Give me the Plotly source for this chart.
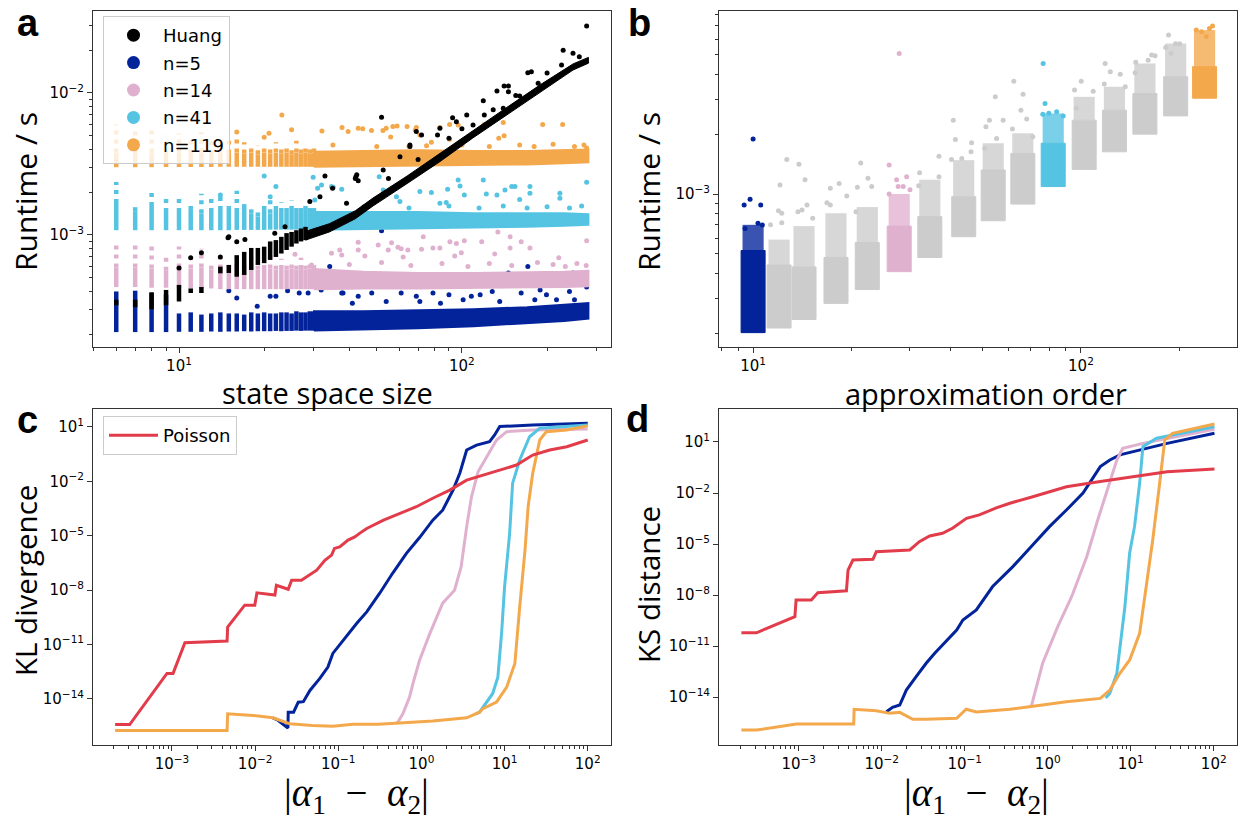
import plotly.graph_objects as go

W, H = 1239, 819

# colours
C_HUANG = "#000000"
C_N5 = "#03239b"
C_N14 = "#e0b1cf"
C_N41 = "#55c3e2"
C_N119 = "#f4a84c"
C_GREY = "#cccccc"
C_POIS = "#e23c4a"

# ---------------- panel a: runtime vs state space size ----------------
STRIP_N = [6, 7, 8, 9, 10, 11, 12, 13, 14, 15, 16, 17, 18, 19, 20, 21, 22, 23, 24, 25, 26, 27, 28, 29, 30]

N5_LO = [2.07e-4, 2.07e-4, 2.07e-4, 2.07e-4, 2.08e-4, 2.08e-4, 2.08e-4, 2.09e-4, 2.08e-4, 2.09e-4, 2.09e-4, 2.1e-4, 2.09e-4,
         2.1e-4, 2.1e-4, 2.1e-4, 2.11e-4, 2.1e-4, 2.11e-4, 2.11e-4, 2.12e-4, 2.11e-4, 2.12e-4, 2.12e-4, 2.12e-4]
N5_HI = [4.0e-4, 4.05e-4, 3.9e-4, 3.8e-4, 2.8e-4, 2.85e-4, 2.75e-4, 2.8e-4, 2.85e-4, 2.8e-4, 2.8e-4, 2.75e-4, 2.85e-4,
         2.8e-4, 2.85e-4, 2.8e-4, 2.8e-4, 2.85e-4, 2.85e-4, 2.8e-4, 2.9e-4, 2.85e-4, 2.85e-4, 2.9e-4, 2.9e-4]

N14_LO = [4.3e-4, 4.3e-4, 4.25e-4, 4.25e-4, 4.2e-4, 4.2e-4, 4.2e-4, 4.2e-4, 4.15e-4, 4.15e-4, 4.15e-4, 4.15e-4, 4.15e-4,
          4.15e-4, 4.15e-4, 4.15e-4, 4.15e-4, 4.15e-4, 4.15e-4, 4.15e-4, 4.15e-4, 4.15e-4, 4.15e-4, 4.15e-4, 4.15e-4]
N14_MID = [5.9e-4, 5.9e-4, 5.8e-4, 5.6e-4, 5.9e-4, 5.8e-4, 5.9e-4, 5.7e-4, 5.8e-4, 5.7e-4, 5.85e-4, 5.7e-4, 5.8e-4,
           5.7e-4, 5.75e-4, 5.8e-4, 5.7e-4, 5.75e-4, 5.7e-4, 5.8e-4, 5.7e-4, 5.75e-4, 5.7e-4, 5.8e-4, 5.75e-4]
N14_TOP = [8.6e-4, 8.5e-4, 8.3e-4, 7.5e-4, 8.3e-4, 7.0e-4, 8.0e-4, 6.5e-4, 7.0e-4, 6.6e-4, 7.4e-4, 6.6e-4, 6.9e-4,
           6.4e-4, 6.6e-4, 7.2e-4, 6.5e-4, 6.8e-4, 6.4e-4, 6.6e-4, 6.5e-4, 6.9e-4, 6.4e-4, 6.6e-4, 6.5e-4]

N41_LO = [1.08e-3, 1.08e-3, 1.08e-3, 1.08e-3, 1.08e-3, 1.08e-3, 1.08e-3, 1.08e-3, 1.08e-3, 1.08e-3, 1.085e-3, 1.085e-3,
          1.085e-3, 1.085e-3, 1.085e-3, 1.09e-3, 1.09e-3, 1.09e-3, 1.09e-3, 1.09e-3, 1.09e-3, 1.09e-3, 1.09e-3, 1.09e-3, 1.09e-3]
N41_MID = [1.68e-3, 1.47e-3, 1.6e-3, 1.45e-3, 1.45e-3, 1.5e-3, 1.42e-3, 1.45e-3, 1.5e-3, 1.55e-3, 1.45e-3, 1.6e-3, 1.42e-3,
           1.35e-3, 1.5e-3, 1.42e-3, 1.5e-3, 1.45e-3, 1.45e-3, 1.5e-3, 1.45e-3, 1.45e-3, 1.5e-3, 1.45e-3, 1.45e-3]
N41_TOP = [2.36e-3, 1.7e-3, 2.07e-3, 1.86e-3, 1.83e-3, 1.68e-3, 1.95e-3, 1.8e-3, 1.95e-3, 1.6e-3, 2.05e-3, 1.65e-3, 1.55e-3,
           1.5e-3, 1.6e-3, 1.85e-3, 1.6e-3, 1.7e-3, 1.6e-3, 1.75e-3, 1.6e-3, 1.65e-3, 1.7e-3, 1.6e-3, 1.65e-3]

N119_LO = [3.0e-3, 3.0e-3, 3.0e-3, 3.01e-3, 3.01e-3, 3.01e-3, 3.01e-3, 3.01e-3, 3.02e-3, 3.02e-3, 3.02e-3, 3.02e-3, 3.02e-3,
           3.02e-3, 3.02e-3, 3.02e-3, 3.02e-3, 3.02e-3, 3.02e-3, 3.02e-3, 3.02e-3, 3.02e-3, 3.02e-3, 3.02e-3, 3.02e-3]
N119_MID = [3.8e-3, 3.75e-3, 3.8e-3, 3.7e-3, 3.8e-3, 3.75e-3, 3.8e-3, 3.7e-3, 3.8e-3, 3.75e-3, 3.8e-3, 3.75e-3, 3.8e-3,
            3.7e-3, 3.8e-3, 3.75e-3, 3.8e-3, 3.75e-3, 3.8e-3, 3.7e-3, 3.8e-3, 3.75e-3, 3.8e-3, 3.75e-3, 3.8e-3]
N119_TOP = [6.0e-3, 5.5e-3, 5.6e-3, 5.0e-3, 5.2e-3, 5.0e-3, 5.3e-3, 4.8e-3, 5.0e-3, 4.6e-3, 4.8e-3, 4.5e-3, 4.4e-3,
            4.3e-3, 4.4e-3, 4.3e-3, 4.5e-3, 4.3e-3, 4.4e-3, 4.2e-3, 4.6e-3, 4.3e-3, 4.4e-3, 4.2e-3, 4.4e-3]

HUANG_STRIP_N = [6, 7, 8, 9, 10, 11, 12, 14, 15, 16, 17, 18, 19, 20, 21, 22, 23, 24, 25, 26, 27, 28]
HUANG_STRIP_LO = [3.2e-4, 3.1e-4, 3.0e-4, 3.2e-4, 3.4e-4, 3.9e-4, 3.9e-4, 5.37e-4, 5.4e-4, 5.08e-4, 5.23e-4, 5.67e-4,
                  6.15e-4, 6.33e-4, 6.67e-4, 7.0e-4, 7.4e-4, 7.84e-4, 8.27e-4, 8.7e-4, 9.0e-4, 9.2e-4]
HUANG_STRIP_HI = [3.5e-4, 3.5e-4, 3.95e-4, 4.1e-4, 4.45e-4, 4.2e-4, 4.3e-4, 5.98e-4, 6.15e-4, 7.2e-4, 7.6e-4, 8.1e-4,
                  8.1e-4, 8.27e-4, 9.0e-4, 9.2e-4, 9.7e-4, 1.03e-3, 1.05e-3, 1.08e-3, 1.11e-3, 1.14e-3]

BAND_N = [30, 45, 70, 110, 170, 230, 280]
N5_BAND_LO = [2.12e-4, 2.15e-4, 2.2e-4, 2.28e-4, 2.38e-4, 2.48e-4, 2.58e-4]
N5_BAND_HI = [2.9e-4, 2.9e-4, 2.95e-4, 3.0e-4, 3.1e-4, 3.22e-4, 3.32e-4]
N14_BAND_LO = [4.15e-4, 4.2e-4, 4.2e-4, 4.22e-4, 4.25e-4, 4.3e-4, 4.35e-4]
N14_BAND_HI = [5.75e-4, 5.5e-4, 5.4e-4, 5.4e-4, 5.45e-4, 5.5e-4, 5.6e-4]
N41_BAND_LO = [1.09e-3, 1.1e-3, 1.11e-3, 1.12e-3, 1.14e-3, 1.16e-3, 1.18e-3]
N41_BAND_HI = [1.45e-3, 1.45e-3, 1.45e-3, 1.42e-3, 1.42e-3, 1.42e-3, 1.4e-3]
N119_BAND_LO = [3.02e-3, 3.04e-3, 3.06e-3, 3.1e-3, 3.14e-3, 3.2e-3, 3.25e-3]
N119_BAND_HI = [3.85e-3, 3.9e-3, 3.95e-3, 3.9e-3, 3.9e-3, 3.95e-3, 4.0e-3]

HUANG_BAND_N = [28, 34, 42, 48.5, 64, 83, 109, 144, 189, 247, 280]
HUANG_BAND_LO = [9.2e-4, 1.05e-3, 1.3e-3, 1.6e-3, 2.3e-3, 3.25e-3, 4.8e-3, 7.0e-3, 1.02e-2, 1.45e-2, 1.62e-2]
HUANG_BAND_HI = [1.06e-3, 1.2e-3, 1.48e-3, 1.82e-3, 2.6e-3, 3.7e-3, 5.4e-3, 7.9e-3, 1.14e-2, 1.6e-2, 1.78e-2]

N5_OUT_N = [52, 171, 247, 146, 38, 48, 61, 79, 90, 116, 128, 162, 189, 240, 276, 41, 54, 71, 101, 136, 181, 216, 16, 22,
            24.2, 28.6, 31.8, 34.1, 15, 21, 26.6, 37.6, 18.9, 84, 250, 43, 199, 69, 108]
N5_OUT_V = [1.07e-3, 6.0e-4, 5.4e-4, 5.4e-4, 3.9e-4, 3.9e-4, 3.9e-4, 3.9e-4, 3.8e-4, 3.8e-4, 4.0e-4, 3.9e-4, 4.1e-4, 4.0e-4,
            4.3e-4, 3.3e-4, 3.4e-4, 3.4e-4, 3.5e-4, 3.4e-4, 3.5e-4, 3.5e-4, 3.6e-4, 3.7e-4, 4.05e-4, 3.9e-4, 4.1e-4, 6.0e-4,
            4.05e-4, 3.7e-4, 3.9e-4, 3.9e-4, 3.15e-4, 3.3e-4, 3.5e-4, 3.7e-4, 3.8e-4, 3.7e-4, 3.7e-4]

N14_OUT_N = [37, 43, 43, 45.4, 50.6, 54.9, 56.4, 59.4, 61, 64.4, 62, 72, 73, 79, 83.6, 90.7, 95.6, 102, 94.3, 99.5, 117.5,
             130.6, 134, 148, 148, 162, 174, 220, 276, 34.6, 37.6, 25.7, 29.4, 40, 52, 66, 85, 105, 125, 150, 185, 210,
             255, 275, 232]
N14_OUT_V = [7.84e-4, 8.9e-4, 7.84e-4, 7.1e-4, 8.5e-4, 7.84e-4, 8.83e-4, 8.2e-4, 8.0e-4, 7.84e-4, 7.0e-4, 7.93e-4, 9.7e-4,
             8.1e-4, 8.1e-4, 8.96e-4, 8.7e-4, 9.1e-4, 7.1e-4, 7.5e-4, 8.96e-4, 7.35e-4, 1.05e-3, 9.7e-4, 8.1e-4, 8.96e-4,
             8.1e-4, 6.9e-4, 9.1e-4, 7.43e-4, 7.23e-4, 7.3e-4, 6.15e-4, 6.2e-4, 6.4e-4, 6.1e-4, 6.3e-4, 6.0e-4, 6.3e-4,
             6.1e-4, 6.4e-4, 6.2e-4, 6.3e-4, 6.1e-4, 6.0e-4]

N41_OUT_N = [37.6, 52.7, 58.7, 60.4, 71, 78, 97, 98.5, 102, 119, 122, 133, 142, 150, 154, 160, 174, 174, 222, 222, 276,
             83.6, 88, 89, 20, 22, 21, 31.9, 34.6, 51, 14, 29.8, 30.9, 35.1, 30.2, 45, 65, 90, 115, 140, 170, 200, 240, 265]
N41_OUT_V = [2.1e-3, 2.07e-3, 1.86e-3, 1.72e-3, 2.02e-3, 1.99e-3, 2.44e-3, 2.21e-3, 1.91e-3, 2.44e-3, 1.94e-3, 1.91e-3,
             2.07e-3, 2.19e-3, 2.19e-3, 1.78e-3, 2.19e-3, 1.97e-3, 1.97e-3, 1.81e-3, 2.35e-3, 1.67e-3, 1.69e-3, 2.1e-3,
             2.6e-3, 2.19e-3, 1.86e-3, 2.25e-3, 2.19e-3, 2.57e-3, 1.91e-3, 2.55e-3, 2.13e-3, 2.17e-3, 1.76e-3, 1.58e-3,
             1.55e-3, 1.6e-3, 1.55e-3, 1.6e-3, 1.55e-3, 1.58e-3, 1.55e-3, 1.6e-3]

N119_OUT_N = [23.1, 16, 20.8, 20, 25, 32, 37.7, 39.6, 43, 54, 59, 64, 68.4, 44.6, 47.9, 52.6, 56, 57, 69, 71, 83.6, 90.5,
              97, 120, 140, 193, 227, 135, 141, 65, 78, 90.5, 276, 35, 50, 75, 100, 125, 160, 180, 210, 250, 270]
N119_OUT_V = [7.0e-3, 5.3e-3, 5.2e-3, 4.87e-3, 5.5e-3, 5.4e-3, 5.7e-3, 5.35e-3, 5.63e-3, 5.63e-3, 5.85e-3, 5.8e-3, 5.49e-3,
              5.6e-3, 5.43e-3, 5.43e-3, 4.9e-3, 5.8e-3, 5.7e-3, 5.06e-3, 5.7e-3, 6.0e-3, 5.95e-3, 6.0e-3, 6.2e-3, 6.0e-3,
              6.0e-3, 4.8e-3, 4.99e-3, 4.2e-3, 4.5e-3, 4.72e-3, 4.1e-3, 4.3e-3, 4.2e-3, 4.25e-3, 4.3e-3, 4.2e-3, 4.3e-3,
              4.2e-3, 4.35e-3, 4.2e-3, 4.3e-3]

HUANG_OUT_N = [52, 276, 228, 247, 176, 171, 225, 186, 133, 141, 146, 146, 119, 160, 92.7, 104, 109.5, 83.6, 82, 72, 69,
               65.5, 60.4, 52.7, 42, 42.5, 39.1, 140, 129, 95.6, 14.9, 16, 17.1, 21.8, 23.7, 29, 31.5, 32.8, 34.9, 42.2,
               43, 65.5, 10, 11, 12, 14, 15, 55, 70, 90, 100, 120, 155, 200, 260]
HUANG_OUT_V = [6.75e-3, 2.96e-2, 2.0e-2, 1.9e-2, 1.41e-2, 1.39e-2, 1.57e-2, 1.17e-2, 1.03e-2, 1.12e-2, 1.12e-2, 1.02e-2,
               8.8e-3, 9.5e-3, 6.7e-3, 7.0e-3, 5.95e-3, 5.63e-3, 5.06e-3, 5.06e-3, 5.35e-3, 4.3e-3, 3.56e-3, 2.87e-3,
               2.5e-3, 2.65e-3, 1.67e-3, 7.8e-3, 7.6e-3, 6.27e-3, 9.56e-4, 8.96e-4, 9.3e-4, 1.03e-3, 1.14e-3, 1.72e-3,
               1.86e-3, 2.6e-3, 2.13e-3, 2.57e-3, 2.41e-3, 4.19e-3, 5.85e-4, 6.9e-4, 7.5e-4, 7.0e-4, 9.7e-4, 2.5e-3,
               3.4e-3, 4.8e-3, 5.6e-3, 7.0e-3, 9.6e-3, 1.38e-2, 1.8e-2]

# ---------------- panel b: runtime vs approximation order ----------------
B_ORDER = [10, 12, 14.3, 17.9, 22.3, 27.9, 34.6, 43.9, 54, 66.5, 82.3, 102.3, 126.5, 156.7, 194.5, 238.3]
B_LO = [2.01e-4, 2.12e-4, 2.34e-4, 2.82e-4, 3.31e-4, 4.07e-4, 4.8e-4, 6.1e-4, 7.34e-4, 8.9e-4, 1.09e-3, 1.33e-3,
        1.63e-3, 2.0e-3, 2.47e-3, 3.03e-3]
B_DENSE = [5.2e-4, 4.4e-4, 4.3e-4, 4.8e-4, 5.7e-4, 6.9e-4, 7.7e-4, 9.7e-4, 1.32e-3, 1.6e-3, 1.8e-3, 2.35e-3, 2.64e-3,
           3.2e-3, 3.89e-3, 4.37e-3]
B_TOP = [7.0e-4, 5.9e-4, 6.9e-4, 8.0e-4, 8.6e-4, 1.0e-3, 1.18e-3, 1.48e-3, 1.8e-3, 2.02e-3, 2.54e-3, 3.08e-3, 3.46e-3,
         4.53e-3, 5.71e-3, 6.67e-3]
B_COLOURS = [C_N5, C_GREY, C_GREY, C_GREY, C_GREY, C_N14, C_GREY, C_GREY, C_GREY, C_GREY, C_N41, C_GREY, C_GREY,
             C_GREY, C_GREY, C_N119]

B_OUT_COL = [0, 0, 0, 0, 0, 0, 0, 1, 1, 1, 1, 1, 1, 2, 2, 2, 2, 2, 2, 3, 3, 3, 3, 3, 4, 4, 4, 4, 4,
             5, 5, 5, 5, 5, 5, 5, 5, 6, 6, 6, 6, 7, 7, 7, 7, 7, 7, 8, 8, 8, 8, 8, 8, 9, 9, 9, 9, 9, 9,
             10, 10, 10, 10, 10, 10, 11, 11, 11, 11, 12, 12, 12, 12, 12, 13, 13, 13, 13, 13,
             14, 14, 14, 14, 14, 15, 15, 15, 15, 15]
B_OUT_X = [9.39, 9.79, 10.55, 10.0, 10.35, 9.45, 10.67,
           12.08, 12.67, 12.23, 12.23, 11.3, 11.95,
           13.8, 14.4, 14.6, 15.2, 13.7, 14.1,
           17.2, 18.3, 16.8, 19.3, 17.2,
           21.3, 20.8, 22.4, 23.0, 20.6,
           27.9, 26.0, 29.4, 28.7, 30.1, 27.4, 27.7, 26.0,
           32.2, 36.9, 36.9, 32.0,
           40.8, 41.4, 46.4, 40.3, 46.2, 43.3,
           54.8, 52.6, 57.9, 51.3, 50.9, 55.3,
           62.4, 66.6, 65.6, 68.3, 61.8, 71.3,
           76.7, 77.7, 84.3, 88.3, 76.5, 79.8,
           100.2, 95.6, 109, 96.8,
           118.5, 122.9, 131.8, 117.8, 136.5,
           164.3, 168.3, 160.3, 147, 146.3,
           185, 194.3, 181.4, 200, 188.5,
           252, 224.8, 246.6, 233.3, 241]
B_OUT_Y = [8.8e-4, 9.4e-4, 8.8e-4, 1.89e-3, 7.12e-4, 6.7e-4, 6.98e-4,
           1.11e-3, 1.49e-3, 8.0e-4, 7.17e-4, 7.0e-4, 8.25e-4,
           1.41e-3, 1.18e-3, 8.8e-4, 7.55e-4, 8.15e-4, 8.3e-4,
           1.07e-3, 1.13e-3, 9.05e-4, 9.77e-4, 8.8e-4,
           1.43e-3, 1.08e-3, 1.2e-3, 1.09e-3, 8.15e-4,
           5.09e-3, 1.4e-3, 1.22e-3, 1.09e-3, 1.05e-3, 1.18e-3, 1.09e-3, 1.0e-3,
           1.28e-3, 1.55e-3, 1.22e-3, 1.1e-3,
           2.35e-3, 1.88e-3, 1.81e-3, 1.49e-3, 1.63e-3, 1.51e-3,
           3.08e-3, 2.35e-3, 2.35e-3, 2.18e-3, 1.7e-3, 1.9e-3,
           3.69e-3, 3.17e-3, 2.64e-3, 2.38e-3, 2.12e-3, 1.94e-3,
           4.53e-3, 2.85e-3, 2.59e-3, 2.47e-3, 2.52e-3, 2.55e-3,
           3.69e-3, 3.33e-3, 3.29e-3, 2.7e-3,
           4.53e-3, 4.12e-3, 4.0e-3, 3.57e-3, 3.46e-3,
           5.0e-3, 4.95e-3, 4.7e-3, 4.6e-3, 4.07e-3,
           6.3e-3, 5.7e-3, 5.45e-3, 5.7e-3, 5.1e-3,
           7.0e-3, 6.67e-3, 6.8e-3, 6.54e-3, 6.2e-3]

# ---------------- panel c: KL divergence ----------------
POIS_C_X = [2.07e-4, 3.1e-4, 8.7e-4, 1.03e-3, 1.43e-3, 4.6e-3, 4.67e-3, 7.5e-3, 9.9e-3, 1.05e-2, 1.73e-2, 1.8e-2, 2.5e-2,
            2.75e-2, 3.6e-2, 4.8e-2, 5.5e-2, 6.9e-2, 8.3e-2, 9.0e-2, 0.104, 0.131, 0.158, 0.18, 0.22, 0.35, 0.55, 0.87,
            1.37, 2.19, 3.5, 5.5, 8.75, 13.9, 21.8, 34.9, 56, 100]
POIS_C_Y = [3.89e-16, 3.89e-16, 2.57e-13, 2.57e-13, 1.26e-11, 1.55e-11, 9.33e-11, 1.48e-9, 1.48e-9, 7.08e-9, 5.37e-9,
            1.86e-8, 1.12e-8, 3.55e-8, 3.55e-8, 8.51e-8, 1.26e-7, 4.47e-7, 8.51e-7, 2.0e-6, 2.45e-6, 5.75e-6, 8.71e-6,
            1.35e-5, 2.51e-5, 7.24e-5, 1.7e-4, 3.98e-4, 1.17e-3, 3.31e-3, 1.17e-2, 2.24e-2, 4.17e-2, 7.94e-2, 0.282,
            0.537, 0.813, 1.91]
N5_C_X = [0.0163, 0.0185, 0.0248, 0.025, 0.029, 0.033, 0.038, 0.0456, 0.06, 0.075, 0.086, 0.114, 0.167, 0.22, 0.315,
          0.45, 0.55, 0.66, 0.95, 1.37, 1.8, 2.4, 2.9, 3.5, 4.6, 6.6, 7.6, 8.75, 21.8, 100]
N5_C_Y = [9.12e-16, 7.08e-16, 2.51e-16, 1.86e-15, 1.86e-15, 6.61e-15, 7.08e-15, 2.95e-14, 1.35e-13, 5.75e-13, 3.24e-12,
          1.7e-11, 1.48e-10, 6.31e-10, 6.76e-9, 8.51e-8, 3.16e-7, 1.07e-6, 7.94e-6, 7.24e-5, 2.57e-4, 3.31e-3, 2.88e-2,
          0.537, 1.0, 1.55, 3.63, 10.5, 12.9, 15.8]
N14_C_X = [0.5, 0.52, 0.6, 0.72, 0.79, 0.95, 1.26, 1.8, 2.5, 3.0, 3.5, 4.0, 4.8, 6.1, 8.0, 10.6, 21.8, 100]
N14_C_Y = [4.68e-16, 5.25e-16, 1.58e-15, 1.26e-14, 7.08e-14, 1.35e-12, 3.98e-11, 1.91e-9, 1e-8, 1.91e-7, 3.16e-5,
           1.41e-3, 3.39e-2, 0.229, 1.91, 5.5, 6.76, 7.76]
N41_C_X = [4.5, 5.0, 7.2, 8.3, 9.2, 10.0, 11.5, 12.5, 15.2, 20, 26.5, 100]
N41_C_Y = [1.51e-15, 1.86e-15, 2.0e-14, 1.58e-13, 3.98e-11, 1.51e-8, 1.32e-5, 7.94e-3, 0.151, 2.88, 8.51, 12.9]
N119_C_X = [2.07e-4, 4.6e-3, 4.67e-3, 9.4e-3, 1.63e-2, 2.6e-2, 4.9e-2, 8.6e-2, 0.15, 0.3, 0.55, 1.37, 3.5, 5.0, 5.5,
            8.0, 10.6, 13.3, 15.2, 17.6, 19.2, 21.8, 26.5, 31.8, 56, 100]
N119_C_Y = [1.82e-16, 1.82e-16, 1.51e-15, 1.23e-15, 9.12e-16, 4.27e-16, 3.47e-16, 3.16e-16, 3.98e-16, 3.98e-16, 4.68e-16,
            6.03e-16, 9.12e-16, 1.86e-15, 2.88e-15, 6.61e-15, 4.47e-14, 9.12e-13, 1.17e-9, 1.58e-6, 3.98e-4, 2.75e-2,
            1.91, 5.5, 6.76, 11.5]

# ---------------- panel d: KS distance ----------------
POIS_D_X = [2.04e-4, 3.1e-4, 9.0e-4, 9.3e-4, 1.42e-3, 1.7e-3, 3.76e-3, 3.93e-3, 4.5e-3, 7.85e-3, 8.6e-3, 1.65e-2, 2.18e-2,
            2.84e-2, 3.78e-2, 5.4e-2, 7.2e-2, 0.105, 0.15, 0.24, 0.35, 0.63, 1.68, 4.3, 10.6, 27.4, 102]
POIS_D_Y = [6.03e-11, 6.03e-11, 5.37e-10, 5.13e-9, 5.13e-9, 1.38e-8, 1.78e-8, 2.95e-7, 1.15e-6, 1.26e-6, 3.55e-6, 4.47e-6,
            4.47e-6, 1.38e-5, 2.95e-5, 4.27e-5, 8.71e-5, 3.24e-4, 5.13e-4, 1.32e-3, 2.51e-3, 5.62e-3, 2.34e-2, 4.68e-2,
            9.12e-2, 0.178, 0.257]
N5_D_X = [0.0114, 0.0135, 0.0165, 0.0198, 0.026, 0.0345, 0.0435, 0.054, 0.08, 0.095, 0.138, 0.217, 0.38, 0.63, 1.05,
          1.68, 2.66, 4.3, 5.6, 7.4, 10.6, 27.4, 102]
N5_D_Y = [1.38e-15, 2.51e-15, 3.39e-15, 2.57e-14, 1.58e-13, 1e-12, 3.72e-12, 1.15e-11, 8.71e-11, 3.39e-10, 1.32e-9,
          3.16e-8, 4.68e-7, 6.92e-6, 1.05e-4, 1e-3, 1e-2, 0.355, 0.871, 1.74, 2.69, 8.32, 32.4]
N14_D_X = [0.6, 0.64, 0.87, 1.32, 1.94, 2.95, 4.0, 5.6, 6.8, 8.0, 14.0, 102]
N14_D_Y = [2.51e-15, 3.39e-15, 1e-12, 1.38e-10, 7.94e-9, 1.78e-6, 2.57e-4, 3.72e-2, 0.871, 4.27, 8.32, 56.2]
N41_D_X = [5.0, 5.6, 6.8, 8.5, 9.7, 11.1, 12.8, 14.0, 20.5, 102]
N41_D_Y = [8.91e-15, 1.66e-14, 2.51e-13, 2.04e-9, 2.95e-6, 1.05e-4, 3.72e-2, 5.25, 16.6, 79.4]
N119_D_X = [2.04e-4, 3.1e-4, 9.4e-4, 4.6e-3, 4.65e-3, 8.6e-3, 1.25e-2, 1.65e-2, 2.37e-2, 3.45e-2, 8.0e-2, 0.104, 0.138,
            0.35, 0.6, 1.68, 4.3, 5.6, 7.4, 9.7, 12.8, 15.3, 18.4, 22.3, 25.7, 31.8, 102]
N119_D_Y = [1.15e-16, 1.15e-16, 2.57e-16, 2.57e-16, 1.91e-15, 1.58e-15, 1.1e-15, 1.26e-15, 4.9e-16, 4.9e-16, 5.62e-16,
            1.91e-15, 1.32e-15, 1.91e-15, 2.69e-15, 5.37e-15, 8.32e-15, 2.57e-14, 2.51e-13, 1.51e-12, 5.62e-11, 3.09e-8,
            1.74e-5, 3.72e-2, 13.2, 32.4, 115]


# ---------------- helpers ----------------
def strip_xy(ns, lo, hi):
    xs, ys = [], []
    for n, a, b in zip(ns, lo, hi):
        xs += [n, n, None]
        ys += [a, b, None]
    return xs, ys


def band_xy(ns, lo, hi):
    ns = list(ns)
    return ns + ns[::-1] + [ns[0]], list(lo) + list(hi)[::-1] + [lo[0]]


def rect_xy(c, lo, hi, half):
    return [c / half, c * half, c * half, c / half, c / half], [lo, lo, hi, hi, lo]


def rgba(hex_colour, alpha):
    h = hex_colour.lstrip("#")
    r, g, b = int(h[0:2], 16), int(h[2:4], 16), int(h[4:6], 16)
    return f"rgba({r},{g},{b},{alpha})"


fig = go.Figure()
DOT = 5
STRIP_W = 4.5

# panel a: coloured series (strips, dense bands, scattered runs)
series_a = [
    (C_N5, N5_LO, N5_HI, None, N5_BAND_LO, N5_BAND_HI, N5_OUT_N, N5_OUT_V),
    (C_N14, N14_LO, N14_MID, N14_TOP, N14_BAND_LO, N14_BAND_HI, N14_OUT_N, N14_OUT_V),
    (C_N41, N41_LO, N41_MID, N41_TOP, N41_BAND_LO, N41_BAND_HI, N41_OUT_N, N41_OUT_V),
    (C_N119, N119_LO, N119_MID, N119_TOP, N119_BAND_LO, N119_BAND_HI, N119_OUT_N, N119_OUT_V),
]
for colour, lo, mid, top, blo, bhi, on, ov in series_a:
    sx, sy = strip_xy(STRIP_N, lo, mid)
    fig.add_trace(go.Scatter(x=sx, y=sy, mode="lines", line=dict(color=colour, width=STRIP_W),
                             showlegend=False, hoverinfo="skip", xaxis="x", yaxis="y"))
    if top is not None:
        tx, ty = strip_xy(STRIP_N, mid, top)
        fig.add_trace(go.Scatter(x=tx, y=ty, mode="lines",
                                 line=dict(color=colour, width=STRIP_W, dash="4px,5px"),
                                 showlegend=False, hoverinfo="skip", xaxis="x", yaxis="y"))
    bx, by = band_xy(BAND_N, blo, bhi)
    fig.add_trace(go.Scatter(x=bx, y=by, mode="lines", fill="toself", fillcolor=colour,
                             line=dict(color=colour, width=2), showlegend=False, hoverinfo="skip",
                             xaxis="x", yaxis="y"))
    fig.add_trace(go.Scatter(x=on, y=ov, mode="markers", marker=dict(color=colour, size=DOT),
                             showlegend=False, hoverinfo="skip", xaxis="x", yaxis="y"))

# panel a: Huang
hx, hy = strip_xy(HUANG_STRIP_N, HUANG_STRIP_LO, HUANG_STRIP_HI)
fig.add_trace(go.Scatter(x=hx, y=hy, mode="lines", line=dict(color=C_HUANG, width=STRIP_W),
                         showlegend=False, hoverinfo="skip", xaxis="x", yaxis="y"))
bx, by = band_xy(HUANG_BAND_N, HUANG_BAND_LO, HUANG_BAND_HI)
fig.add_trace(go.Scatter(x=bx, y=by, mode="lines", fill="toself", fillcolor=C_HUANG,
                         line=dict(color=C_HUANG, width=1), showlegend=False, hoverinfo="skip",
                         xaxis="x", yaxis="y"))
fig.add_trace(go.Scatter(x=HUANG_OUT_N, y=HUANG_OUT_V, mode="markers", marker=dict(color=C_HUANG, size=DOT),
                         showlegend=False, hoverinfo="skip", xaxis="x", yaxis="y"))

# legend entries for panel a
for i, (name, colour) in enumerate([("Huang", C_HUANG), ("n=5", C_N5), ("n=14", C_N14),
                                    ("n=41", C_N41), ("n=119", C_N119)]):
    fig.add_trace(go.Scatter(x=[None], y=[None], mode="markers", name=name,
                             marker=dict(color=colour, size=13), legend="legend",
                             legendgroup=f"g{i}", xaxis="x", yaxis="y"))

# panel b: jittered columns
HALF = 1.088
for c, lo, dense, top, colour in zip(B_ORDER, B_LO, B_DENSE, B_TOP, B_COLOURS):
    rx, ry = rect_xy(c, lo, dense, HALF)
    fig.add_trace(go.Scatter(x=rx, y=ry, mode="lines", fill="toself", fillcolor=colour,
                             line=dict(color=colour, width=1), showlegend=False, hoverinfo="skip",
                             xaxis="x2", yaxis="y2"))
    px, py = rect_xy(c, dense, top, HALF * 0.99)
    fig.add_trace(go.Scatter(x=px, y=py, mode="lines", fill="toself", fillcolor=rgba(colour, 0.78),
                             line=dict(width=0), showlegend=False, hoverinfo="skip",
                             xaxis="x2", yaxis="y2"))
fig.add_trace(go.Scatter(x=B_OUT_X, y=B_OUT_Y, mode="markers",
                         marker=dict(color=[B_COLOURS[k] for k in B_OUT_COL], size=DOT),
                         showlegend=False, hoverinfo="skip", xaxis="x2", yaxis="y2"))

# panels c and d: distance curves
LW = 3
for xa, ya, curves in [
    ("x3", "y3", [(N5_C_X, N5_C_Y, C_N5), (N14_C_X, N14_C_Y, C_N14), (N41_C_X, N41_C_Y, C_N41),
                  (N119_C_X, N119_C_Y, C_N119)]),
    ("x4", "y4", [(N5_D_X, N5_D_Y, C_N5), (N14_D_X, N14_D_Y, C_N14), (N41_D_X, N41_D_Y, C_N41),
                  (N119_D_X, N119_D_Y, C_N119)]),
]:
    for cx, cy, colour in curves:
        fig.add_trace(go.Scatter(x=cx, y=cy, mode="lines", line=dict(color=colour, width=LW),
                                 showlegend=False, hoverinfo="skip", xaxis=xa, yaxis=ya))

fig.add_trace(go.Scatter(x=POIS_C_X, y=POIS_C_Y, mode="lines", name="Poisson",
                         line=dict(color=C_POIS, width=LW), legend="legend2", hoverinfo="skip",
                         xaxis="x3", yaxis="y3"))
fig.add_trace(go.Scatter(x=POIS_D_X, y=POIS_D_Y, mode="lines", line=dict(color=C_POIS, width=LW),
                         showlegend=False, hoverinfo="skip", xaxis="x4", yaxis="y4"))

# ---------------- axes ----------------
TICK_FONT = dict(family="DejaVu Sans", size=15, color="#000")
LINE = "#333333"


def sup(p):
    return "10<sup>" + ("\u2212" if p < 0 else "") + str(abs(p)) + "</sup>"


def minor_vals(lo_exp, hi_exp):
    vals = []
    for e in range(lo_exp, hi_exp + 1):
        for m in range(2, 10):
            vals.append(m * 10.0 ** e)
    return vals


def log_axis(domain, rng, anchor, tickexps, minor=None):
    ax = dict(type="log", domain=domain, range=rng, anchor=anchor, showgrid=False, zeroline=False,
              showline=True, mirror=True, linecolor=LINE, linewidth=1,
              ticks="outside", ticklen=5, tickwidth=1, tickcolor=LINE,
              tickmode="array", tickvals=[10.0 ** p for p in tickexps], ticktext=[sup(p) for p in tickexps],
              tickfont=TICK_FONT)
    if minor is not None:
        ax["minor"] = dict(tickmode="array", tickvals=minor, ticks="outside", ticklen=3, tickwidth=0.8,
                           tickcolor=LINE)
    return ax


XA = [93 / W, 611 / W]
XB = [719 / W, 1237 / W]
YT = [1 - 347 / H, 1 - 11 / H]
YB = [1 - 745 / H, 1 - 409 / H]

fig.update_layout(
    xaxis=log_axis(XA, [0.696, 2.527], "y", [1, 2], minor_vals(0, 2)),
    yaxis=log_axis(YT, [-3.789, -1.423], "x", [-3, -2], minor_vals(-4, -2)),
    xaxis2=log_axis(XB, [0.896, 2.476], "y2", [1, 2], minor_vals(0, 2)),
    yaxis2=log_axis(YT, [-3.769, -2.08], "x2", [-3], minor_vals(-4, -3)),
    xaxis3=log_axis(XA, [-3.95, 2.28], "y3", [-3, -2, -1, 0, 1, 2], minor_vals(-4, 2)),
    yaxis3=log_axis(YB, [-16.54, 1.99], "x3", [-14, -11, -8, -5, -2, 1]),
    xaxis4=log_axis(XB, [-3.96, 2.28], "y4", [-3, -2, -1, 0, 1, 2], minor_vals(-4, 2)),
    yaxis4=log_axis(YB, [-16.82, 2.94], "x4", [-14, -11, -8, -5, -2, 1]),
)

LEGEND_STYLE = dict(bgcolor="rgba(255,255,255,0.8)", bordercolor="#cccccc", borderwidth=1,
                    font=dict(family="DejaVu Sans", size=18, color="#000"), xanchor="left", yanchor="top",
                    itemclick=False, itemdoubleclick=False, itemwidth=49)
fig.update_layout(
    legend=dict(x=103 / W, y=1 - 16 / H, tracegroupgap=1, traceorder="grouped", **LEGEND_STYLE),
    legend2=dict(x=103 / W, y=1 - 416 / H, **LEGEND_STYLE),
)

# ---------------- text ----------------
MATH_FONT = dict(family="Liberation Serif", size=39, color="#000")
LETTER_FONT = dict(family="Liberation Sans", size=38, color="#000")
MATH = "|<i>\u03b1</i><sub>1</sub>\u2002\u2212\u2002<i>\u03b1</i><sub>2</sub>|"


def label_font(size):
    return dict(family="Open Sans", size=size, color="#000")


ann = []
for txt, x, y in [("<b>a</b>", 15, 0), ("<b>b</b>", 626, 0), ("<b>c</b>", 15, 397), ("<b>d</b>", 624, 396)]:
    ann.append(dict(text=txt, x=x / W, y=1 - y / H, xref="paper", yref="paper", xanchor="left", yanchor="top",
                    showarrow=False, font=LETTER_FONT))
for txt, x, y, s in [("Runtime / s", 25, 192, 30), ("Runtime / s", 648, 192, 30), ("KL divergence", 25, 581, 29.5),
                     ("KS distance", 648, 585, 29.5)]:
    ann.append(dict(text=txt, x=x / W, y=1 - y / H, xref="paper", yref="paper", xanchor="center",
                    yanchor="middle", textangle=-90, showarrow=False, font=label_font(s)))
for txt, x, y, f in [("state space size", 327, 392, label_font(29)),
                     ("approximation order", 986, 393, label_font(29)),
                     (MATH, 356, 795, MATH_FONT), (MATH, 976, 795, MATH_FONT)]:
    ann.append(dict(text=txt, x=x / W, y=1 - y / H, xref="paper", yref="paper", xanchor="center",
                    yanchor="middle", showarrow=False, font=f))

fig.update_layout(width=W, height=H, margin=dict(l=0, r=0, t=0, b=0), paper_bgcolor="white",
                  plot_bgcolor="white", annotations=ann, hovermode=False)

fig.write_html("out.html", config={"displayModeBar": False})
